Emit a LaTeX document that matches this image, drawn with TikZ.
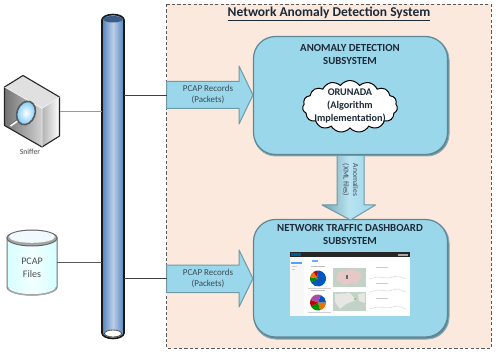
\documentclass[tikz,border=0pt]{standalone}
\usepackage{fontspec}
\setmainfont{Carlito}
\usetikzlibrary{shapes.symbols,calc}
\definecolor{panelbg}{HTML}{FCE9DD}
\definecolor{boxfill}{HTML}{9AD7EA}
\definecolor{boxedge}{HTML}{5F8793}
\definecolor{arrowedge}{HTML}{6E9AA6}
\definecolor{inktext}{HTML}{1D2A38}
\definecolor{pipeblue}{HTML}{5485BE}
\definecolor{pipelight}{HTML}{BCCDE8}
\definecolor{mapgreen}{HTML}{C3D2C6}
\definecolor{mappink}{HTML}{E4C9C6}
\definecolor{mapland}{HTML}{E6E6E2}
\tikzset{
  link/.style={draw=black!75,line width=0.9pt},
  flow/.style={draw=arrowedge,line width=1pt,fill=boxfill,line join=round},
  subsystem/.style={draw=boxedge,line width=1.2pt,fill=boxfill,rounded corners=22pt},
  heading/.style={font=\bfseries\fontsize{10.8}{13}\selectfont,text=inktext,align=center,inner sep=0pt},
  flowlabel/.style={font=\fontsize{9}{11}\selectfont,text=inktext!85,align=center,inner sep=0pt},
  tracebar/.style={draw=black!14,line width=0.5pt}
}
\begin{document}
\begin{tikzpicture}[x=1pt,y=-1pt]
\useasboundingbox (0,0) rectangle (497,352);
\fill[white] (0,0) rectangle (497,352);

% system panel
\draw[fill=panelbg,draw=black!65,line width=0.9pt,dash pattern=on 3.2pt off 2.2pt] (166.5,4) rectangle (491,348);
\node[font=\bfseries\fontsize{13.5}{15}\selectfont,text=inktext,inner sep=0pt] (title) at (329,14) {\underline{Network Anomaly Detection System}};

% shared bus
\node[inner sep=0pt,minimum width=22pt,minimum height=325pt] (pipe) at (113,176.5) {};
\draw[line width=1.6pt,draw=black!90,left color=pipeblue,right color=pipeblue,middle color=pipelight]
  (102,20) arc[x radius=11,y radius=5.5,start angle=180,end angle=360]
  -- (124,333) arc[x radius=11,y radius=5.5,start angle=0,end angle=180] -- cycle;
\fill[pipeblue!70!black] (103.5,19.5) arc[x radius=9.5,y radius=3.5,start angle=180,end angle=360]
  arc[x radius=9.5,y radius=3,start angle=0,end angle=180] -- cycle;
\draw[line width=0.8pt,draw=black!70,fill=white] (113,333.5) ellipse[x radius=8.5,y radius=3.5];

% sniffer appliance
\node[inner sep=0pt,minimum width=56pt,minimum height=72pt] (sniffer) at (32,111) {};
\fill[left color=black!55,right color=black!18] (4.5,87) -- (42,108.5) -- (42,147) -- (4.5,125.5) -- cycle;
\fill[left color=black!30,right color=white] (42,108.5) -- (59.5,97) -- (59.5,136) -- (42,147) -- cycle;
\fill[black!12] (4.5,87) -- (23,75.5) -- (59.5,97) -- (42,108.5) -- cycle;
\draw[line width=1.1pt,draw=black!85,line join=round] (4.5,87) -- (23,75.5) -- (59.5,97) -- (59.5,136) -- (42,147) -- (4.5,125.5) -- cycle;
\draw[line width=0.5pt,draw=white] (4.5,87) -- (42,108.5) -- (59.5,97) (42,108.5) -- (42,147);
\draw[line width=1.6pt,draw=white] (10.5,126) -- (19,120);
\draw[line width=0.5pt,draw=black!60] (10,124.5) -- (18,119);
\draw[rotate around={-20:(26,113)},line width=1.6pt,draw=black!65,inner color=white,outer color=blue!40!cyan!55] (26,113) ellipse[x radius=9,y radius=12];
\node[font=\fontsize{7.8}{9}\selectfont,text=black!70,inner sep=0pt] (sniffertag) at (30,152) {Sniffer};

% capture file store
\node[inner sep=0pt,minimum width=50pt,minimum height=65pt] (files) at (32,262.5) {};
\draw[line width=1pt,draw=black!55,left color=cyan!16,right color=cyan!16,middle color=cyan!5]
  (7,238) -- (7,287) arc[x radius=25,y radius=8,start angle=180,end angle=0] -- (57,238) -- cycle;
\draw[line width=1.4pt,draw=black!35] (8,287.5) arc[x radius=24,y radius=7.5,start angle=180,end angle=0];
\draw[line width=1pt,draw=black!60,fill=black!35] (32,238) ellipse[x radius=25,y radius=8];
\fill[cyan!6] (32,236.8) ellipse[x radius=23,y radius=6];
\node[font=\fontsize{10}{13}\selectfont,text=black!70,align=center,inner sep=0pt] (filestag) at (32,267.5) {PCAP\\Files};

% subsystem boxes
\draw[boxedge!70,line width=1pt,fill=boxedge,rounded corners=22pt] (254,38) rectangle (449,156);
\path[subsystem] (253.5,36.5) rectangle (447.5,154.5);
\node[inner sep=0pt,minimum width=195pt,minimum height=119pt] (detect) at (350.5,95.5) {};
\draw[boxedge!70,line width=1pt,fill=boxedge,rounded corners=22pt] (254,221) rectangle (449,339);
\path[subsystem] (253.5,219.5) rectangle (447.5,337);
\node[inner sep=0pt,minimum width=195pt,minimum height=118pt] (dash) at (350.5,278.5) {};

\node[heading] (detecthead) at (350,54.5) {ANOMALY DETECTION\\SUBSYSTEM};
\node[heading] (dashhead) at (350,234.5) {NETWORK TRAFFIC DASHBOARD\\SUBSYSTEM};

% algorithm cloud
\node[cloud,cloud puffs=15,cloud puff arc=110,aspect=1.9,draw=black,line width=1pt,fill=white,inner sep=0pt,minimum width=95pt,minimum height=52pt] (algo) at (350,106.5) {};
\node[font=\bfseries\fontsize{10.2}{13}\selectfont,text=inktext,align=center,inner sep=0pt] (algotext) at (350,106) {ORUNADA\\(Algorithm\\Implementation)};

% record arrows from the bus
\coordinate (inA) at (166.5,95);
\coordinate (inB) at (166.5,278.5);
\draw[flow] (inA |- 0,81.5) -- (239,81.5) -- (239,66) -- (253,95) -- (239,124) -- (239,108.5) -- (inA |- 0,108.5) -- cycle;
\draw[flow] (inB |- 0,265) -- (239,265) -- (239,250) -- (253,278.5) -- (239,307) -- (239,292.5) -- (inB |- 0,292.5) -- cycle;
\node[flowlabel] (recordsA) at (208,95) {PCAP Records\\(Packets)};
\node[flowlabel] (recordsB) at (208,278) {PCAP Records\\(Packets)};

% anomaly hand-off arrow
\draw[flow,left color=boxfill!75!black,right color=boxfill,middle color=boxfill!70!white] (337,155.5) -- (364,155.5) -- (364,205) -- (375.5,205) -- (350.5,220) -- (322,205) -- (337,205) -- cycle;
\node[flowlabel,rotate=-90,font=\fontsize{7.6}{9.5}\selectfont] (anomtag) at (350.5,180) {Anomalies\\(XML files)};

% connectors
\draw[link,draw=black!40] (sniffer.east) -- (sniffer.east -| pipe.west);
\draw[link,draw=black!65] (files.east) -- (files.east -| pipe.west);
\draw[link] (pipe.east |- inA) -- (inA);
\draw[link] (pipe.east |- inB) -- (inB);

% dashboard screenshot
\fill[white] (290,252) rectangle (410,316);
\fill[black!85] (290,252) rectangle (410,257.5);
\fill[blue!40!cyan!60!black] (291,253) rectangle (301,256.5);
\fill[black!35] (398,254) rectangle (408,256.5);
\fill[black!3] (290,257.5) rectangle (304,316);
\fill[blue!50!cyan!70] (291,262) rectangle (302,264);
\fill[black!20] (292,266) rectangle (297,267);
\fill[black!20] (292,269) rectangle (295,270);
\fill[blue!50!cyan!60] (312,259.5) rectangle (318,261.5);
\fill[black!25] (311,266) rectangle (325,267);
\fill[black!25] (311,290) rectangle (325,291);
\fill[black!18] (308,287.5) rectangle (331,288.5);
\fill[black!18] (308,311.5) rectangle (331,312.5);
% traffic pies
\begin{scope}[shift={(318,278.5)},y=1pt]
  \fill[blue!55!cyan!75!black] (0,0) -- (100:8) arc[start angle=100,end angle=-150,radius=8] -- cycle;
  \fill[green!55!black] (0,0) -- (210:8) arc[start angle=210,end angle=170,radius=8] -- cycle;
  \fill[orange!90!black] (0,0) -- (170:8) arc[start angle=170,end angle=125,radius=8] -- cycle;
  \fill[red!75!black] (0,0) -- (125:8) arc[start angle=125,end angle=100,radius=8] -- cycle;
\end{scope}
\begin{scope}[shift={(318,302.5)},y=1pt]
  \fill[blue!55!cyan!75!black] (0,0) -- (70:8) arc[start angle=70,end angle=0,radius=8] -- cycle;
  \fill[orange!90!black] (0,0) -- (0:8) arc[start angle=0,end angle=-75,radius=8] -- cycle;
  \fill[green!55!black] (0,0) -- (-75:8) arc[start angle=-75,end angle=-150,radius=8] -- cycle;
  \fill[red!75!black] (0,0) -- (-150:8) arc[start angle=-150,end angle=-200,radius=8] -- cycle;
  \fill[violet!70!white] (0,0) -- (160:8) arc[start angle=160,end angle=70,radius=8] -- cycle;
\end{scope}
% map panels
\fill[mapgreen] (333,268) rectangle (366,287);
\fill[mappink] (338,272) -- (352,269) -- (362,274) -- (358,283) -- (344,285) -- (336,280) -- cycle;
\fill[black!60] (346,275) rectangle (347.5,279);
\fill[mapgreen] (333,292) rectangle (366,311);
\fill[mapland] (335,294) -- (350,293) -- (356,300) -- (346,304) -- (340,309) -- (335,302) -- cycle;
\fill[mapland] (358,294) -- (365,293) -- (365,303) -- (359,301) -- cycle;
\fill[green!55!black!60] (355,299) circle[radius=1];
% trace charts
\fill[black!20] (376,267) rectangle (388,268);
\fill[black!20] (376,283) rectangle (388,284);
\fill[black!20] (376,298) rectangle (388,299);
\draw[tracebar] (369,279) -- (378,277) -- (388,278) -- (398,276) -- (406,279);
\draw[tracebar] (369,292) -- (378,290) -- (388,291) -- (398,289) -- (406,292);
\draw[tracebar] (369,309) -- (378,307) -- (388,308) -- (398,306) -- (406,309);
\end{tikzpicture}
\end{document}
